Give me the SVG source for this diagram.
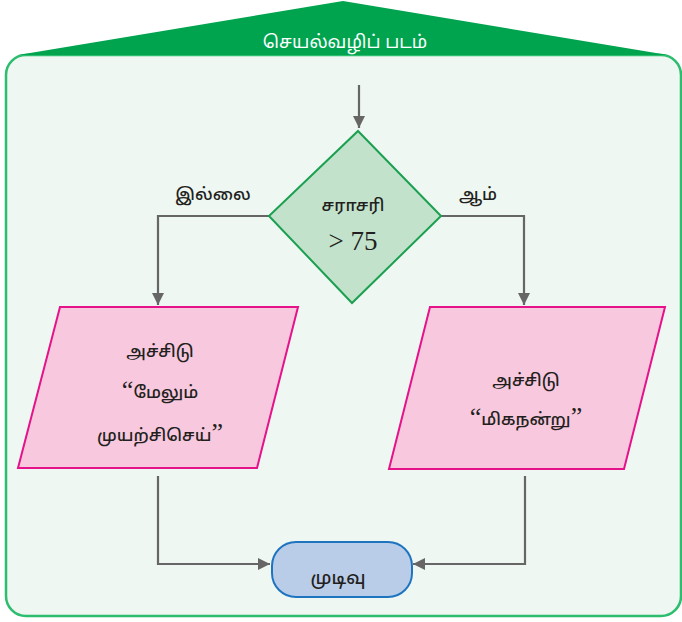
<svg xmlns="http://www.w3.org/2000/svg" width="682" height="622" viewBox="0 0 682 622">
<defs>
<style>
.t{font-family:"Noto Sans Tamil","Noto Sans","DejaVu Sans",sans-serif;font-size:17px;font-weight:500;fill:#231f20;text-anchor:middle}
.q{font-family:"Liberation Serif",serif;font-size:26px;font-weight:400}
.conn{fill:none;stroke:#666666;stroke-width:2.2}
.io{fill:#f8c9de;stroke:#e5128a;stroke-width:2}
</style>
<marker id="ah" viewBox="0 0 12 12" refX="12" refY="6" markerWidth="12" markerHeight="12" markerUnits="userSpaceOnUse" orient="auto">
<path d="M0,0 L12,6 L0,12 Z" fill="#666666"/>
</marker>
</defs>
<rect x="0" y="0" width="682" height="622" fill="#ffffff"/>
<g id="frame">
<rect x="6" y="55" width="675" height="561" rx="20" ry="20" fill="#eef7f2" stroke="#2dbd6e" stroke-width="2.5"/>
<polygon points="18,55 343,1 668,55" fill="#00a44f"/>
<text x="345" y="48" style="font-family:'Noto Sans Tamil','Noto Sans','DejaVu Sans',sans-serif;font-size:18px;fill:#ffffff;text-anchor:middle">செயல்வழிப் படம்</text>
</g>
<g id="connectors">
<path class="conn" d="M359,85 L359,128" marker-end="url(#ah)"/>
<path class="conn" d="M269,216 L158,216 L158,305" marker-end="url(#ah)"/>
<path class="conn" d="M441,216 L524,216 L524,305" marker-end="url(#ah)"/>
<path class="conn" d="M158,476 L158,564 L270,564" marker-end="url(#ah)"/>
<path class="conn" d="M525,476 L525,564 L413,564" marker-end="url(#ah)"/>
<text class="t" x="213" y="200">இல்லை</text>
<text class="t" x="478" y="200">ஆம்</text>
</g>
<g id="decision">
<polygon points="358,131 441,216 352,303 269,216" fill="#c2e2cb" stroke="#1aa050" stroke-width="2"/>
<text class="t" x="353" y="211">சராசரி</text>
<text x="353" y="250" style="font-family:'Liberation Serif',serif;font-size:27px;fill:#231f20;text-anchor:middle">&gt; 75</text>
</g>
<g id="print-no">
<polygon class="io" points="60,307 298,307 257,468 18,468"/>
<text class="t" x="160" y="357">அச்சிடு</text>
<text class="t" x="160" y="398"><tspan class="q">“</tspan>மேலும்</text>
<text class="t" x="160" y="441">முயற்சிசெய்<tspan class="q">”</tspan></text>
</g>
<g id="print-yes">
<polygon class="io" points="430,307 665,307 624,469 389,469"/>
<text class="t" x="526" y="386">அச்சிடு</text>
<text class="t" x="526" y="425"><tspan class="q">“</tspan>மிகநன்று<tspan class="q">”</tspan></text>
</g>
<g id="end">
<rect x="272" y="542" width="140" height="55" rx="24" ry="24" fill="#b9cde9" stroke="#1f74c0" stroke-width="2"/>
<text class="t" x="338" y="584" style="font-size:18px">முடிவு</text>
</g>
</svg>
